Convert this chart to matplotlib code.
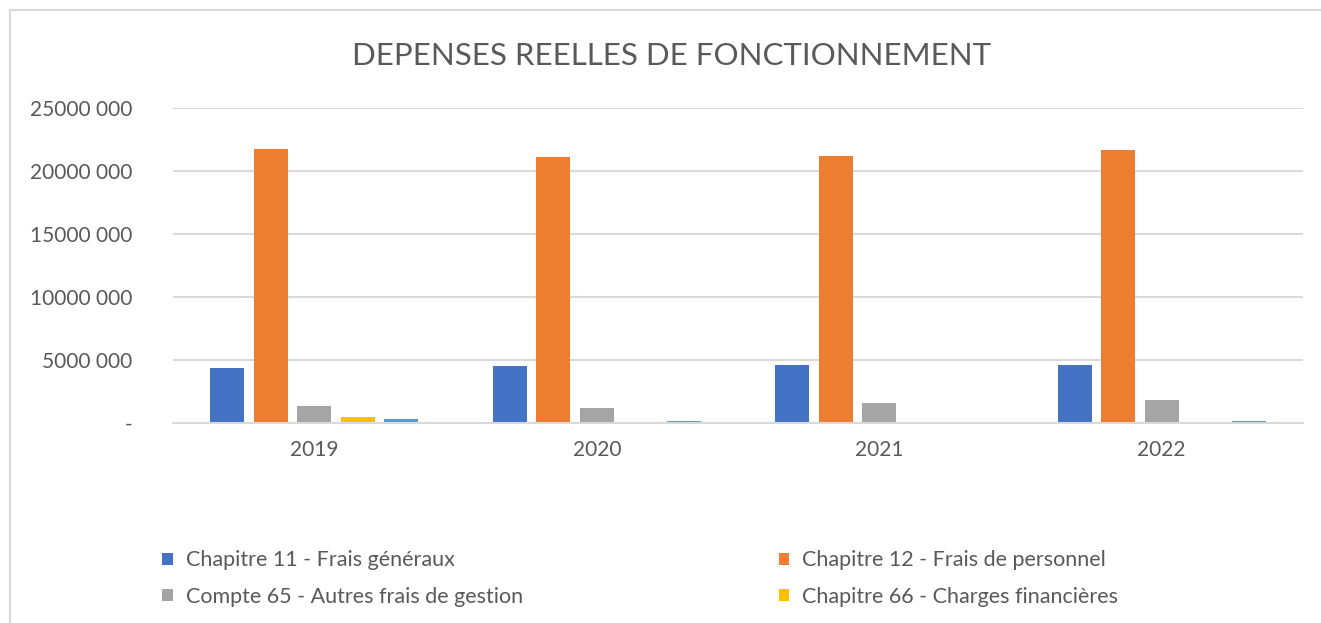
import matplotlib
matplotlib.use("Agg")
import matplotlib.pyplot as plt
from matplotlib.patches import Patch
from matplotlib.lines import Line2D
import numpy as np

years = ["2019", "2020", "2021", "2022"]
series_names = [
    "Chapitre 11 - Frais généraux",
    "Chapitre 12 - Frais de personnel",
    "Compte 65 - Autres frais de gestion",
    "Chapitre 66 - Charges financières",
    "Chapitre 67 - Charges exceptionnelles",
]
chap11 = [4400000, 4560000, 4640000, 4640000]
chap12 = [21750000, 21100000, 21200000, 21650000]
compte65 = [1350000, 1230000, 1600000, 1790000]
chap66 = [500000, 30000, 10000, 5000]
chap67 = [300000, 120000, 50000, 120000]
colors = ["#4472C4", "#ED7D31", "#A5A5A5", "#FFC000", "#5B9BD5"]
yticks = [0, 5000000, 10000000, 15000000, 20000000, 25000000]
ytick_labels = ["-", "5000 000", "10000 000", "15000 000", "20000 000", "25000 000"]
title = "DEPENSES REELLES DE FONCTIONNEMENT"

plt.rcParams["font.family"] = ["Lato", "DejaVu Sans"]
text_color = "#595959"
grid_color = "#D9D9D9"

W, H = 1321, 623
fig = plt.figure(figsize=(W / 100, H / 100), dpi=100)
ax = fig.add_axes([173 / W, 1 - 423 / H, (1303 - 173) / W, (423 - 108) / H])

data = [chap11, chap12, compte65, chap66, chap67]
x = np.arange(len(years))
pitch = 0.154
width = 0.12
for i, (vals, c) in enumerate(zip(data, colors)):
    ax.bar(x + (i - 2) * pitch, vals, width=width, color=c, zorder=3,
           label=series_names[i])

ax.set_xlim(-0.5, len(years) - 0.5)
ax.set_ylim(0, 25000000)
ax.set_yticks(yticks)
ax.set_yticklabels(ytick_labels)
ax.set_xticks(x)
ax.set_xticklabels(years)
ax.tick_params(axis="both", length=0, labelsize=15, colors=text_color)
ax.tick_params(axis="y", pad=29)
ax.tick_params(axis="x", pad=12)
ax.grid(axis="y", color=grid_color, linewidth=1.5, zorder=0)
for s in ["top", "right", "left"]:
    ax.spines[s].set_visible(False)
ax.spines["bottom"].set_color(grid_color)
ax.spines["bottom"].set_linewidth(1.5)
ax.spines["bottom"].set_zorder(4)

fig.text(672 / W, 1 - 56 / H, title, ha="center", va="center",
         fontsize=22.5, color=text_color)

# legend: only the four entries visible in the (cropped) chart, row-major order
order = [0, 2, 1, 3]
handles = [Patch(facecolor=colors[i], edgecolor="none") for i in order]
labels = [series_names[i] for i in order]
leg = fig.legend(handles, labels, ncol=2, loc="upper left",
                 bbox_to_anchor=(158 / W, 1 - 546 / H), frameon=False,
                 fontsize=15.5, labelcolor=text_color, handlelength=0.5,
                 handleheight=0.5, handletextpad=0.6, columnspacing=11.87,
                 labelspacing=0.77, borderpad=0.2, borderaxespad=0)

# chart border (left and top)
fig.add_artist(Line2D([9.5 / W, 9.5 / W], [0, 1 - 9.5 / H], color=grid_color,
                      linewidth=1.5, transform=fig.transFigure))
fig.add_artist(Line2D([9.5 / W, 1], [1 - 9.5 / H, 1 - 9.5 / H], color=grid_color,
                      linewidth=1.5, transform=fig.transFigure))

fig.savefig("out.png", dpi=100)
